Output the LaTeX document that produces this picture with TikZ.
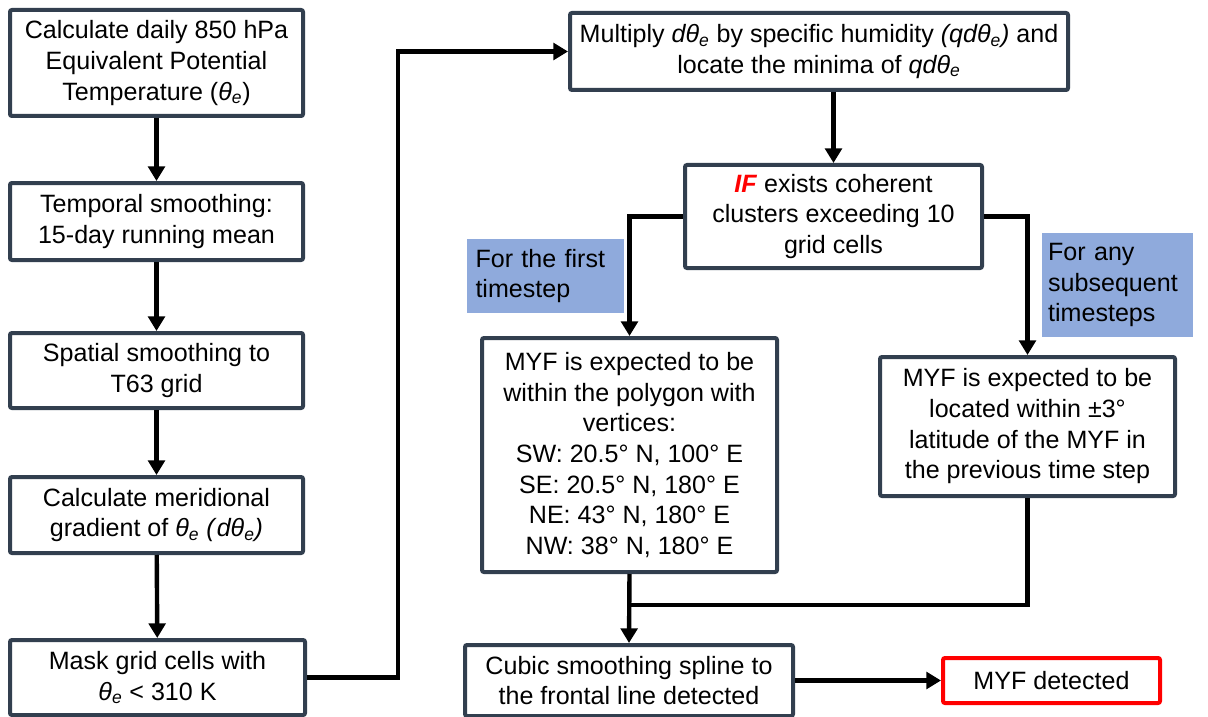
\documentclass[tikz,border=0pt]{standalone}
\usepackage{fontspec}
\setmainfont{Liberation Sans}
\usetikzlibrary{arrows.meta}
\definecolor{edge}{HTML}{323F4F}
\definecolor{tag}{HTML}{8FAADC}
\definecolor{alarm}{HTML}{FF0000}
\newcommand{\thte}{\textit{θ\textsubscript{e}}}
\newcommand{\dthte}{\textit{dθ\textsubscript{e}}}

\begin{document}
\begin{tikzpicture}[x=0.75pt,y=-0.75pt,
  box/.style={draw=edge,line width=3pt,rounded corners=1.5pt,fill=white,align=center,
    inner sep=0pt,font=\fontsize{18.8}{23}\selectfont},
  tagbox/.style={fill=tag,align=left,inner sep=0pt,font=\fontsize{18.8}{23}\selectfont},
  flow/.style={line width=3.3pt,-{Triangle[length=11pt,width=12.5pt]}},
  link/.style={line width=3.3pt}]
  \useasboundingbox (0,0) rectangle (1208,717);

  \node[box,minimum width=219.75pt,minimum height=79.5pt] (b1) at (156.5,63)
    {Calculate daily 850 hPa\\Equivalent Potential\\Temperature (\thte)};
  \node[box,minimum width=219.75pt,minimum height=57.75pt] (b2) at (156.5,221.5)
    {Temporal smoothing:\\15-day running mean};
  \node[box,minimum width=219.75pt,minimum height=56.25pt] (b3) at (156.5,370.5)
    {Spatial smoothing to\\T63 grid};
  \node[box,minimum width=219.75pt,minimum height=57pt] (b4) at (156.5,515)
    {Calculate meridional\\gradient of \thte{} \textit{(}\dthte\textit{)}};
  \node[box,minimum width=221.25pt,minimum height=56.25pt] (b5) at (157.5,677.5)
    {Mask grid cells with\\\thte{} < 310 K};

  \node[box,minimum width=373.5pt,minimum height=57.75pt] (mult) at (819,51.5)
    {Multiply \dthte{} by specific humidity \textit{(q}\dthte\textit{)} and\\locate the minima of \textit{q}\dthte};
  \node[box,minimum width=222.75pt,minimum height=77.25pt] (cond) at (833.5,216.5)
    {\textcolor{alarm}{\textbf{\textit{IF}}} exists coherent\\clusters exceeding 10\\grid cells};

  \node[tagbox,minimum width=114.75pt,minimum height=55.5pt,text width=105pt,inner xsep=6.4pt] (first) at (545.5,276)
    {For the first\\timestep};
  \node[tagbox,minimum width=111.75pt,minimum height=78pt,text width=104pt,inner xsep=4.9pt] (subs) at (1117.5,285)
    {For any\\subsequent\\timesteps};

  \node[box,minimum width=221.25pt,minimum height=175.5pt] (poly) at (629.5,455)
    {MYF is expected to be\\within the polygon with\\vertices:\\SW: 20.5° N, 100° E\\SE: 20.5° N, 180° E\\NE: 43° N, 180° E\\NW: 38° N, 180° E};
  \node[box,minimum width=221.25pt,minimum height=104.25pt] (prev) at (1027.5,426.5)
    {MYF is expected to be\\located within ±3°\\latitude of the MYF in\\the previous time step};

  \node[box,minimum width=246pt,minimum height=53.25pt] (spline) at (629,680.5)
    {Cubic smoothing spline to\\the frontal line detected};
  \node[box,draw=alarm,minimum width=162.75pt,minimum height=33.75pt] (det) at (1051.5,680.5)
    {MYF detected};

  \coordinate (up) at (398,0);
  \coordinate (join) at (630,605);

  \draw[flow] (b1) -- (b2);
  \draw[flow] (b2) -- (b3);
  \draw[flow] (b3) -- (b4);
  \draw[flow] (b4) -- (b5);
  \draw[flow] (b5.east) -| (up |- mult.west) -- (mult.west);
  \draw[flow] (mult.south -| cond.north) -- (cond.north);
  \draw[flow] (cond.west) -| (poly.north);
  \draw[flow] (cond.east) -| (prev.north);
  \draw[flow] (poly.south) -- (spline.north);
  \draw[link] (prev.south) |- (join);
  \draw[flow] (spline.east) -- (det.west);
\end{tikzpicture}
\end{document}
